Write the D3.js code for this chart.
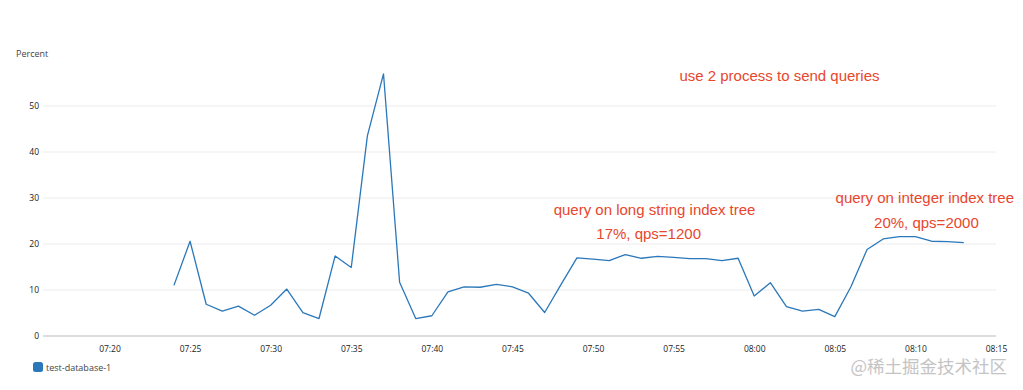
<!DOCTYPE html>
<html>
<head>
<meta charset="utf-8">
<script src="https://cdn.jsdelivr.net/npm/d3@7"></script>
<style>
  body { margin: 0; background: #fff; }
  svg { display: block; }
</style>
</head>
<body>
<svg id="chart" width="1023" height="390"></svg>
<script>
// minute timestamps of the series
const times = [
  "07:24", "07:25", "07:26", "07:27", "07:28", "07:29", "07:30", "07:31", "07:32", "07:33",
  "07:34", "07:35", "07:36", "07:37", "07:38", "07:39", "07:40", "07:41", "07:42", "07:43",
  "07:44", "07:45", "07:46", "07:47", "07:48", "07:49", "07:50", "07:51", "07:52", "07:53",
  "07:54", "07:55", "07:56", "07:57", "07:58", "07:59", "08:00", "08:01", "08:02", "08:03",
  "08:04", "08:05", "08:06", "08:07", "08:08", "08:09", "08:10", "08:11", "08:12", "08:13"
];
// cpu percent, test-database-1
const cpu = [
  11.0, 20.6, 6.9, 5.4, 6.5, 4.5, 6.7, 10.2, 5.1, 3.8,
  17.4, 14.9, 43.5, 57.0, 11.7, 3.8, 4.4, 9.6, 10.7, 10.6,
  11.2, 10.7, 9.3, 5.1, 11.1, 17.0, 16.7, 16.4, 17.7, 16.9,
  17.3, 17.1, 16.8, 16.8, 16.4, 16.9, 8.7, 11.6, 6.4, 5.4,
  5.8, 4.2, 10.7, 18.8, 21.1, 21.6, 21.6, 20.6, 20.5, 20.3
];
const xTicks = ["07:20", "07:25", "07:30", "07:35", "07:40", "07:45", "07:50",
                "07:55", "08:00", "08:05", "08:10", "08:15"];
const yTicks = [0, 10, 20, 30, 40, 50];
const seriesName = "test-database-1";
// red notes written on the chart (time, percent of the text baseline)
const notes = [
  { text: "use 2 process to send queries", t: "08:01:34", v: 55.4 },
  { text: "query on long string index tree", t: "07:53:49", v: 26.3 },
  { text: "17%, qps=1200", t: "07:53:27", v: 21.1 },
  { text: "query on integer index tree", t: "08:10:35", v: 28.9 },
  { text: "20%, qps=2000", t: "08:10:41", v: 23.5 }
];

const parse = d3.timeParse("%H:%M");
const parseSec = d3.timeParse("%H:%M:%S");
const svg = d3.select("#chart");

const x = d3.scaleTime()
  .domain([parse("07:16"), parse("08:15")])
  .range([45, 996]);
const y = d3.scaleLinear()
  .domain([0, 60])
  .range([336, 60]);

// gridlines
svg.append("g")
  .selectAll("line")
  .data(yTicks.filter(d => d > 0))
  .join("line")
  .attr("x1", 43).attr("x2", 996)
  .attr("y1", d => y(d)).attr("y2", d => y(d))
  .attr("stroke", "#ececec")
  .attr("stroke-width", 1);

// y axis labels
const yAxis = svg.append("g")
  .attr("transform", "translate(39,0)")
  .call(d3.axisLeft(y).tickValues(yTicks).tickSize(0).tickPadding(0));
yAxis.select(".domain").remove();
yAxis.selectAll("text")
  .attr("font-family", "'Open Sans', sans-serif")
  .attr("font-size", 8.5)
  .attr("fill", "#222");

svg.append("text")
  .attr("x", 16).attr("y", 57)
  .attr("font-family", "'Open Sans', sans-serif")
  .attr("font-size", 9)
  .attr("fill", "#444")
  .text("Percent");

// x axis
const xAxis = svg.append("g")
  .attr("transform", "translate(0,336)")
  .call(d3.axisBottom(x)
    .tickValues(xTicks.map(parse))
    .tickFormat(d3.timeFormat("%H:%M"))
    .tickSize(0)
    .tickPadding(10));
xAxis.select(".domain")
  .attr("d", "M43,0H996")
  .attr("stroke", "#d2d2d2")
  .attr("stroke-width", 1.5);
xAxis.selectAll("text")
  .attr("font-family", "'Open Sans', sans-serif")
  .attr("font-size", 8.5)
  .attr("fill", "#222");

// series line
const line = d3.line()
  .x((d, i) => x(parse(times[i])))
  .y(d => y(d));
svg.append("path")
  .datum(cpu)
  .attr("fill", "none")
  .attr("stroke", "#2a78ba")
  .attr("stroke-width", 1.3)
  .attr("stroke-linejoin", "round")
  .attr("d", line);

// annotations
svg.append("g")
  .selectAll("text")
  .data(notes)
  .join("text")
  .attr("x", d => x(parseSec(d.t)))
  .attr("y", d => y(d.v))
  .attr("text-anchor", "middle")
  .attr("font-family", "'Liberation Sans', Arial, sans-serif")
  .attr("font-size", 15)
  .attr("fill", "#e8462d")
  .text(d => d.text);

// legend
const legend = svg.append("g").attr("transform", "translate(33,362)");
legend.append("rect")
  .attr("width", 10).attr("height", 10)
  .attr("rx", 2.5)
  .attr("fill", "#2a78ba");
legend.append("text")
  .attr("x", 13).attr("y", 8.5)
  .attr("font-family", "'Open Sans', sans-serif")
  .attr("font-size", 9)
  .attr("fill", "#444")
  .text(seriesName);

// watermark
svg.append("text")
  .attr("x", 1007).attr("y", 373)
  .attr("text-anchor", "end")
  .attr("font-family", "'Noto Sans CJK SC', sans-serif")
  .attr("font-size", 17.5)
  .attr("fill", "#c4c4c4")
  .text("@稀土掘金技术社区");
</script>
</body>
</html>
